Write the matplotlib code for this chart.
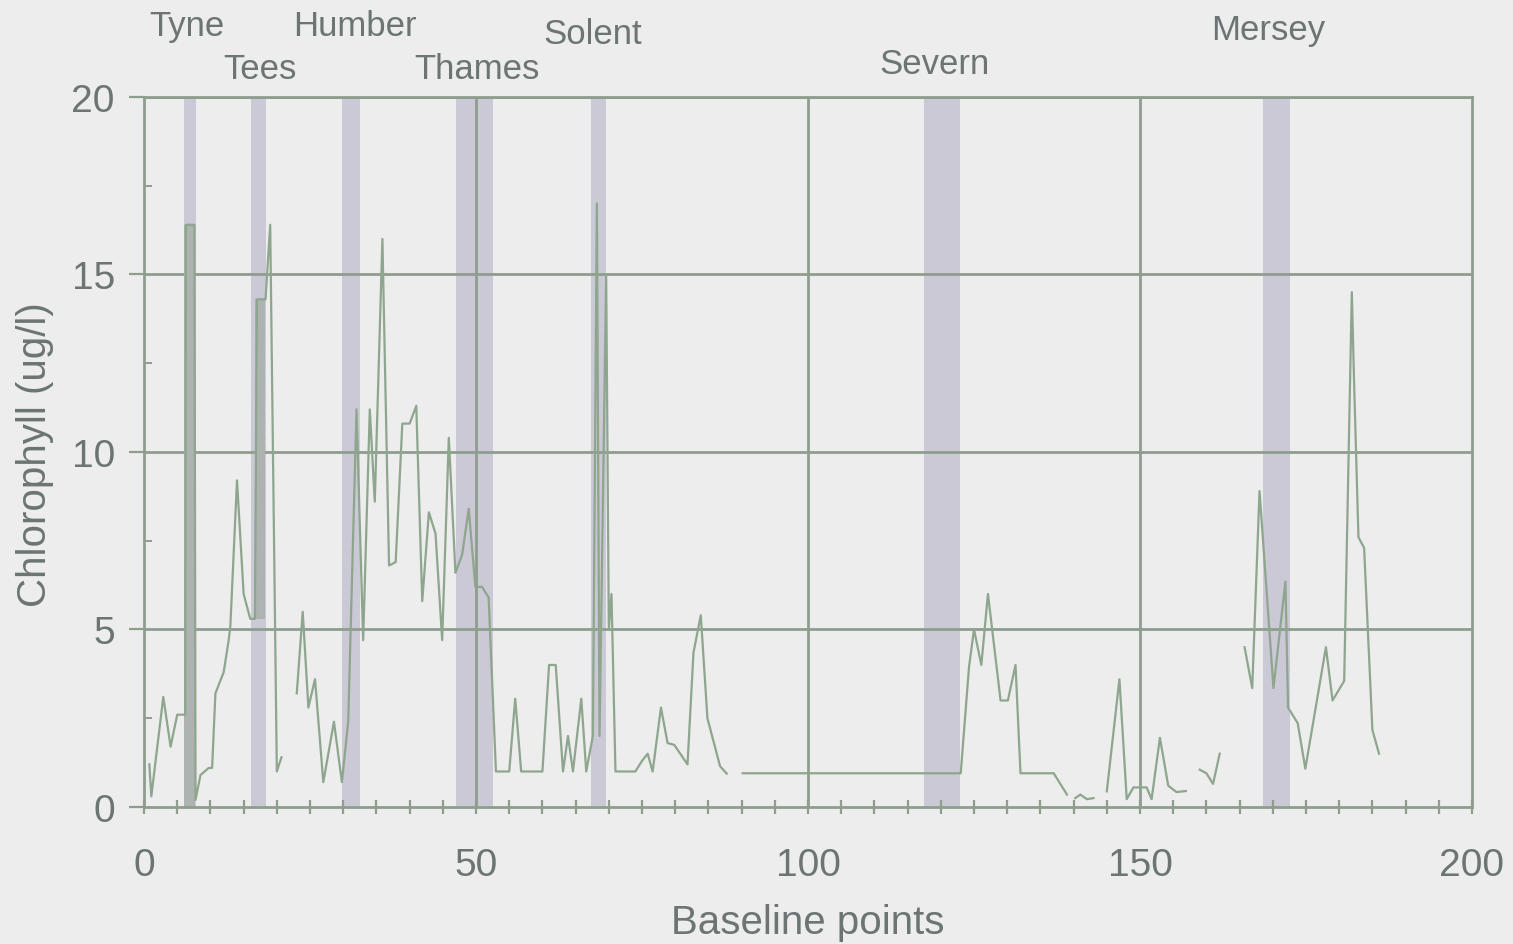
import numpy as np
from matplotlib import pyplot as plt
from matplotlib.ticker import MultipleLocator

nan = np.nan

# baseline point position and chlorophyll (ug/l); nan = gap in the record
x_pts = [0.8, 1.1, 2.9, 4.0, 5.0, 5.8, 6.2, 6.3, 7.6, 7.75, 8.5, 9.75, 10.25,
         10.75, 12.0, 12.75, 13.0, 14.0, 15.0, 16.0, 16.7, 17.0, 18.3, 19.0,
         20.0, 20.7, 21.5,
         23.0, 23.9, 24.75, 25.75, 27.0, 28.6, 29.8, 30.75, 32.0, 33.0, 34.0,
         34.75, 35.9, 36.9, 37.9, 38.9, 40.0, 41.0, 41.9, 42.9, 43.9, 44.9,
         45.9, 46.9, 47.9, 48.9, 49.9, 50.9, 51.9, 53.0, 55.0, 55.9, 56.8,
         60.0, 61.0, 62.0, 63.1, 63.85, 64.6, 65.85, 66.6, 67.6, 68.2, 68.6,
         69.6, 70.0, 70.4, 71.0, 74.0, 75.0, 75.85, 76.6, 77.85, 78.85, 79.85,
         81.85, 82.75, 83.85, 84.85, 86.75, 87.75, 89.0,
         90.15, 123.0, 124.25, 125.0, 126.1, 127.1, 129.0, 130.1, 131.25,
         132.0, 137.0, 139.0, 139.6,
         140.25, 141.0, 142.0, 143.0, 144.0,
         145.0, 146.9, 148.0, 149.0, 151.0, 151.75, 153.0, 154.25, 155.5,
         156.9, 158.0,
         159.0, 160.0, 161.0, 162.0, 164.0,
         165.75, 166.9, 168.0, 170.1, 171.9, 172.3, 173.75, 174.9, 178.0,
         179.0, 180.75, 181.9, 182.25, 182.9, 183.75, 185.0, 186.0]
chl = [1.2, 0.3, 3.1, 1.7, 2.6, 2.6, 2.6, 16.4, 16.4, 0.2, 0.9, 1.1, 1.1,
       3.2, 3.8, 4.7, 5.1, 9.2, 6.0, 5.3, 5.3, 14.3, 14.3, 16.4,
       1.0, 1.4, nan,
       3.2, 5.5, 2.8, 3.6, 0.7, 2.4, 0.7, 2.4, 11.2, 4.7, 11.2,
       8.6, 16.0, 6.8, 6.9, 10.8, 10.8, 11.3, 5.8, 8.3, 7.7, 4.7,
       10.4, 6.6, 7.1, 8.4, 6.2, 6.2, 5.9, 1.0, 1.0, 3.05, 1.0,
       1.0, 4.0, 4.0, 1.0, 2.0, 1.0, 3.05, 1.0, 2.0, 17.0, 2.0,
       15.0, 5.0, 6.0, 1.0, 1.0, 1.3, 1.5, 1.0, 2.8, 1.8, 1.75,
       1.2, 4.35, 5.4, 2.5, 1.15, 0.94, nan,
       0.95, 0.95, 3.95, 5.0, 4.0, 6.0, 3.0, 3.0, 4.0,
       0.95, 0.95, 0.35, nan,
       0.25, 0.35, 0.22, 0.25, nan,
       0.44, 3.6, 0.22, 0.55, 0.55, 0.22, 1.95, 0.6, 0.42,
       0.45, nan,
       1.05, 0.95, 0.65, 1.5, nan,
       4.5, 3.35, 8.9, 3.35, 6.35, 2.8, 2.36, 1.08, 4.5,
       3.0, 3.55, 14.5, 11.9, 7.6, 7.3, 2.17, 1.5]

# estuaries: shaded span and label position
estuaries = ['Tyne', 'Tees', 'Humber', 'Thames', 'Solent', 'Severn', 'Mersey']
band_lo = [6.0, 16.15, 29.8, 47.0, 67.3, 117.5, 168.5]
band_hi = [7.9, 18.4, 32.5, 52.6, 69.6, 122.9, 172.6]
label_x = [6.5, 17.5, 31.8, 50.2, 67.5, 119.1, 169.3]
label_y = [22.0, 20.8, 22.0, 20.8, 21.8, 20.95, 21.9]

# darker (overplotted) parts inside the Tyne and Tees bands
dark_lo = [6.05, 16.75]
dark_hi = [7.75, 18.25]
dark_bottom = [0.0, 5.3]
dark_top = [16.4, 14.3]

bg = '#ecedec'
grid_c = '#8e9d8e'
text_c = '#6c7474'
line_c = '#8ea58e'

plt.rcParams['font.family'] = ['Liberation Sans', 'DejaVu Sans']

fig = plt.figure(figsize=(15.13, 9.45), dpi=100, facecolor=bg)
ax = fig.add_axes([0.0952, 0.145, 0.8777, 0.7513])
ax.set_facecolor(bg)

for lo, hi in zip(band_lo, band_hi):
    ax.axvspan(lo, hi, color='#cbc9d5', lw=0, zorder=1)
for lo, hi, b, t in zip(dark_lo, dark_hi, dark_bottom, dark_top):
    ax.fill_between([lo, hi], [b, b], [t, t], color='#adb3b1', lw=0,
                    zorder=2.5)

for y in [5, 10, 15, 20]:
    ax.axhline(y, color=grid_c, lw=2.0, zorder=1.5)
for x in [50, 100, 150]:
    ax.axvline(x, color=grid_c, lw=2.0, zorder=1.5)

ax.plot(x_pts, chl, color=line_c, lw=1.6, zorder=3)

for name, x, y in zip(estuaries, label_x, label_y):
    ax.text(x, y, name, ha='center', va='center', fontsize=25,
            color=text_c, clip_on=False)

ax.set_xlim(0, 200)
ax.set_ylim(0, 20)
ax.xaxis.set_major_locator(MultipleLocator(50))
ax.xaxis.set_minor_locator(MultipleLocator(5))
ax.yaxis.set_major_locator(MultipleLocator(5))
ax.yaxis.set_minor_locator(MultipleLocator(2.5))

ax.tick_params(axis='x', which='both', direction='inout', length=10,
               width=1.6, color=grid_c, labelsize=28, labelcolor=text_c,
               pad=24)
ax.tick_params(axis='y', which='major', direction='out', length=11,
               width=1.6, color=grid_c, labelsize=28, labelcolor=text_c,
               pad=10)
ax.tick_params(axis='y', which='minor', direction='in', length=6,
               width=1.4, color=grid_c)

for s in ax.spines.values():
    s.set_color(grid_c)
    s.set_linewidth(2.0)

ax.set_xlabel('Baseline points', fontsize=29, color=text_c)
ax.xaxis.set_label_coords(0.5, -0.135)
ax.set_ylabel('Chlorophyll (ug/l)', fontsize=29, color=text_c)
ax.yaxis.set_label_coords(-0.082, 0.497)
ax.yaxis.label.set_va('center')

fig.savefig('out.png', dpi=100, facecolor=bg)
